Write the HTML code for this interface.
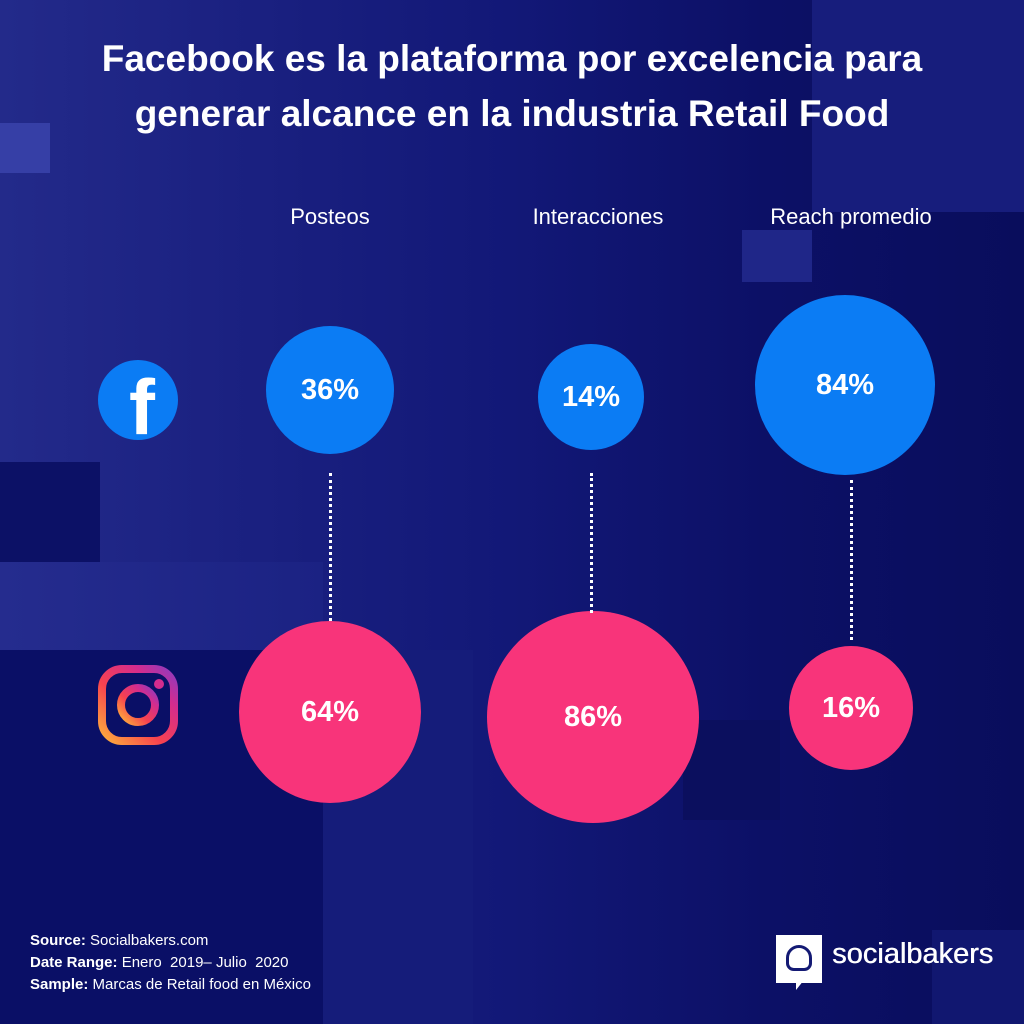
<!DOCTYPE html>
<html><head><meta charset="utf-8"><style>
*{margin:0;padding:0}
body{width:1024px;height:1024px;overflow:hidden;position:relative;font-family:"Liberation Sans",sans-serif;color:#fff;
background:linear-gradient(90deg,#232a8a 0%,#1a2080 25%,#121877 50%,#0c1066 75%,#090d5c 100%);}
.r{position:absolute}
.c{position:absolute;border-radius:50%;display:flex;align-items:center;justify-content:center;font-weight:bold;font-size:29px;color:#fff}
.b{background:#0b7cf4}.p{background:#f8347a}
.t{position:absolute;width:1024px;text-align:center;font-size:37px;font-weight:bold;}
.l{position:absolute;font-size:22px;text-align:center;width:240px}
.d{position:absolute;width:0;border-left:3px dotted #fff}
</style></head><body>
<div class="r" style="left:812px;top:0;width:212px;height:212px;background:#171d7c"></div>
<div class="r" style="left:0;top:123px;width:50px;height:50px;background:#363fa6"></div>
<div class="r" style="left:742px;top:230px;width:70px;height:52px;background:#1f2688"></div>
<div class="r" style="left:0;top:562px;width:323px;height:88px;background:linear-gradient(90deg,#252c8e,#1b2283)"></div>
<div class="r" style="left:0;top:462px;width:100px;height:100px;background:#0c1166"></div>
<div class="r" style="left:0;top:650px;width:323px;height:374px;background:#0a0f66"></div>
<div class="r" style="left:323px;top:650px;width:150px;height:374px;background:#151c7a"></div>
<div class="r" style="left:683px;top:720px;width:97px;height:100px;background:#0b0f5e"></div>
<div class="r" style="left:932px;top:930px;width:92px;height:94px;background:#111770"></div>
<div class="t" style="top:38px">Facebook es la plataforma por excelencia para</div>
<div class="t" style="top:93px">generar alcance en la industria Retail Food</div>
<div class="l" style="left:210px;top:204px">Posteos</div>
<div class="l" style="left:478px;top:204px">Interacciones</div>
<div class="l" style="left:731px;top:204px">Reach promedio</div>
<div class="c b" style="left:98px;top:360px;width:80px;height:80px;overflow:hidden;align-items:flex-end"><span style="font-size:78px;line-height:66px;font-family:'Liberation Sans';font-weight:bold;margin-left:8px">f</span></div>
<div class="r" style="left:98px;top:665px;width:80px;height:80px">
<svg width="80" height="80"><defs><linearGradient id="g" x1="0" y1="1" x2="1" y2="0"><stop offset="0" stop-color="#fdb03c"/><stop offset=".4" stop-color="#f7424f"/><stop offset=".75" stop-color="#d42c8e"/><stop offset="1" stop-color="#8d3bc0"/></linearGradient></defs>
<rect x="4" y="4" width="72" height="72" rx="20" fill="none" stroke="url(#g)" stroke-width="8"/>
<circle cx="40" cy="40" r="17" fill="none" stroke="url(#g)" stroke-width="8"/><circle cx="61" cy="19" r="5" fill="#d42c8e"/></svg></div>
<div class="c b" style="left:266px;top:326px;width:128px;height:128px">36%</div>
<div class="c b" style="left:538px;top:344px;width:106px;height:106px">14%</div>
<div class="c b" style="left:755px;top:295px;width:180px;height:180px">84%</div>
<div class="c p" style="left:239px;top:621px;width:182px;height:182px">64%</div>
<div class="c p" style="left:487px;top:611px;width:212px;height:212px">86%</div>
<div class="c p" style="left:789px;top:646px;width:124px;height:124px">16%</div>
<div class="d" style="left:329px;top:473px;height:148px"></div>
<div class="d" style="left:590px;top:473px;height:140px"></div>
<div class="d" style="left:850px;top:480px;height:160px"></div>
<div class="r" style="left:30px;top:930px;font-size:15px;line-height:22px"><b>Source:</b> Socialbakers.com<br><b>Date Range:</b> Enero&nbsp; 2019– Julio&nbsp; 2020<br><b>Sample:</b> Marcas de Retail food en México</div>
<div class="r" style="left:776px;top:935px;width:46px;height:48px;background:#fff"></div>
<div class="r" style="left:796px;top:980px;width:0;height:0;border-left:8px solid #fff;border-bottom:10px solid transparent"></div>
<div class="r" style="left:786px;top:945px;width:26px;height:26px;border:3px solid #141a74;border-radius:50% 50% 30% 30%;box-sizing:border-box"></div>
<div class="r" style="left:832px;top:938px;font-size:29px;letter-spacing:0px;text-shadow:0.5px 0 0 #fff">socialbakers</div>
</body></html>
